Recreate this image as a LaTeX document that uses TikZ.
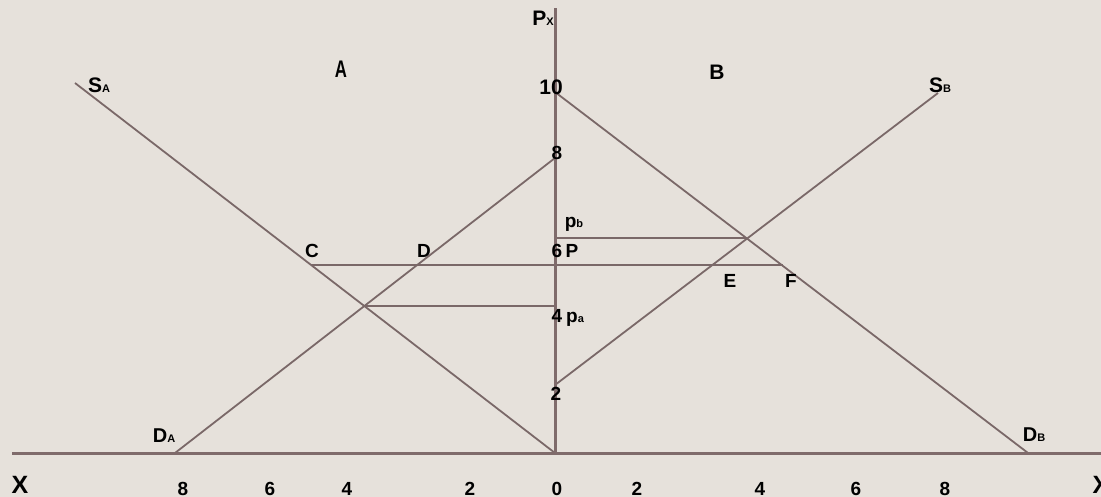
\documentclass[tikz,border=0pt]{standalone}
\usepackage{fontspec}
\setmainfont{Liberation Sans}
\usepackage{tikz}
\usetikzlibrary{calc}

\definecolor{paper}{HTML}{E6E1DB}
\definecolor{axiscol}{HTML}{7F6B6B}
\definecolor{linecol}{HTML}{7A6868}

\newcommand{\lsub}[1]{{\fontsize{11bp}{11bp}\selectfont #1}}

\begin{document}
\begin{tikzpicture}[
        x=1bp, y=-1bp,
        axisline/.style={draw=axiscol, line width=3bp},
        demline/.style={draw=linecol, line width=1.8bp},
        lab/.style={font=\bfseries\fontsize{#1}{#1}\selectfont,
            anchor=base, inner sep=0pt},
        lab/.default=19bp,
    ]

    % =============================================
    % FONDO
    % =============================================
    \useasboundingbox (0,0) rectangle (1101,497);
    \fill[paper] (0,0) rectangle (1101,497);

    % =============================================
    % PUNTOS
    % =============================================
    \coordinate (O)    at (555,453);
    \coordinate (ytop) at (555,8);
    \coordinate (xl)   at (12,453);
    \coordinate (xr)   at (1101,453);

    \coordinate (SAtop) at (75,83);
    \coordinate (DAbot) at (175,453);
    \coordinate (DAtop) at (555,158);
    \coordinate (DBtop) at (555,92);
    \coordinate (DBbot) at (1028,453);
    \coordinate (SBbot) at (555,385);
    \coordinate (SBtop) at (938,93);

    \coordinate (C)  at (311,265);
    \coordinate (F)  at (783,265);
    \coordinate (Ka) at (364,306);
    \coordinate (Kb) at (747,238);

    % =============================================
    % CURVAS
    % =============================================
    \draw[demline] (SAtop) -- (O);
    \draw[demline] (DAbot) -- (DAtop);
    \draw[demline] (DBtop) -- (DBbot);
    \draw[demline] (SBbot) -- (SBtop);

    \draw[demline] (C)  -- (F);
    \draw[demline] (Ka) -- (Ka -| O);
    \draw[demline] (Kb) -- (Kb -| O);

    % Ejes
    \draw[axisline] (xl) -- (xr);
    \draw[axisline] (O)  -- (ytop);

    % =============================================
    % ETIQUETAS
    % =============================================
    \node[lab=21bp] (py)   at (543,26)  {P\lsub{X}};
    \node[lab=24bp, xscale=0.7, transform shape] (ta) at (341,78) {A};
    \node[lab=21bp] (tb)   at (717,80)  {B};
    \node[lab=21bp] (sa)   at (99,93)   {S\lsub{A}};
    \node[lab=21bp] (sb)   at (940,93)  {S\lsub{B}};
    \node[lab=21bp] (y10)  at (551,95)  {10};
    \node[lab] (y8)   at (557,160) {8};
    \node[lab] (pb)   at (574,228) {p\lsub{b}};
    \node[lab] (y6)   at (557,258) {6};
    \node[lab] (pp)   at (572,258) {P};
    \node[lab] (lc)   at (312,258) {C};
    \node[lab] (ld)   at (424,258) {D};
    \node[lab] (le)   at (730,288) {E};
    \node[lab] (lf)   at (791,288) {F};
    \node[lab] (y4)   at (557,323) {4};
    \node[lab] (pa)   at (575,323) {p\lsub{a}};
    \node[lab] (y2)   at (556,400) {2};
    \node[lab=20bp] (da) at (164,442) {D\lsub{A}};
    \node[lab=20bp] (db) at (1034,441) {D\lsub{B}};

    \node[lab=25bp] (xleft)  at (20,493)   {X};
    \node[lab=25bp] (xright) at (1101,493) {X};

    \foreach \v/\xx in {8/183, 6/270, 4/347, 2/470, 0/557,
                        2/637, 4/760, 6/856, 8/945}
        \node[lab] at (\xx,495) {\v};

    \end{tikzpicture}
\end{document}
